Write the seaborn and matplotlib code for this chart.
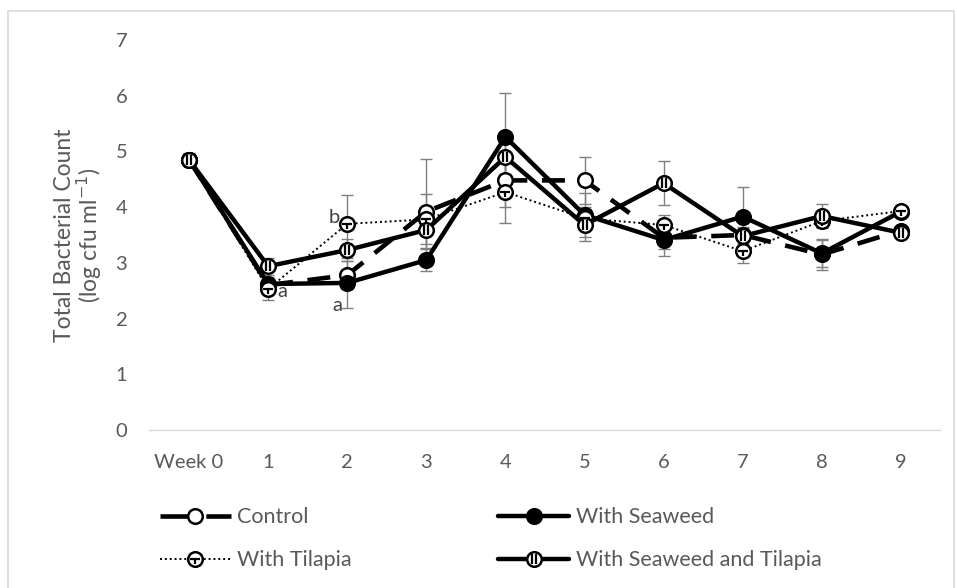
import numpy as np
import pandas as pd
import matplotlib
matplotlib.use("Agg")
import matplotlib.pyplot as plt
import seaborn as sns
from matplotlib.path import Path
from matplotlib.lines import Line2D
from matplotlib.legend_handler import HandlerTuple
from matplotlib.patches import Rectangle

# ---- data -------------------------------------------------------------
weeks = ["Week 0", "1", "2", "3", "4", "5", "6", "7", "8", "9"]

control = [4.85, 2.60, 2.78, 3.92, 4.48, 4.48, 3.45, 3.50, 3.15, 3.58]
seaweed = [4.85, 2.62, 2.64, 3.05, 5.26, 3.86, 3.41, 3.83, 3.17, 3.92]
tilapia = [4.85, 2.53, 3.70, 3.78, 4.27, 3.80, 3.68, 3.21, 3.75, 3.93]
seaweed_tilapia = [4.85, 2.94, 3.23, 3.59, 4.90, 3.68, 4.43, 3.48, 3.84, 3.54]

control_err = [0.12, 0.10, 0.25, 0.95, 0.47, 0.42, 0.20, 0.15, 0.28, 0.06]
seaweed_err = [0.10, 0.12, 0.45, 0.20, 0.78, 0.39, 0.29, 0.53, 0.24, 0.06]
tilapia_err = [0.10, 0.20, 0.52, 0.45, 0.55, 0.20, 0.18, 0.21, 0.10, 0.06]
seaweed_tilapia_err = [0.10, 0.15, 0.20, 0.32, 0.30, 0.29, 0.39, 0.15, 0.22, 0.06]

series_names = ["Control", "With Seaweed", "With Tilapia", "With Seaweed and Tilapia"]

# significance letters: (week index, value, letter)
letters = [(1, 2.53, "a"), (2, 2.64, "a"), (2, 3.70, "b")]

# ---- style ------------------------------------------------------------
sns.set_theme(style="white")
plt.rcParams["font.family"] = ["Lato", "DejaVu Sans"]
GREY_TXT = "#595959"
FS = 14.5
FS_LEG = 15.5
FS_YLAB = 16.5

fig = plt.figure(figsize=(9.57, 5.88), dpi=100)
ax = fig.add_axes([0.1562, 0.2687, 0.8265, 0.6633])

x = np.arange(len(weeks))
df = pd.DataFrame({
    "week": np.tile(x, 4),
    "value": control + seaweed + tilapia + seaweed_tilapia,
    "err": control_err + seaweed_err + tilapia_err + seaweed_tilapia_err,
    "series": np.repeat(series_names, len(weeks)),
})

# inner glyphs for the patterned markers
tee = Path([(-1, 0), (1, 0), (0, 0), (0, -1)],
           [Path.MOVETO, Path.LINETO, Path.MOVETO, Path.LINETO])
bars = Path([(-0.38, -0.9), (-0.38, 0.9), (0.38, -0.9), (0.38, 0.9)],
            [Path.MOVETO, Path.LINETO, Path.MOVETO, Path.LINETO])

styles = {
    "Control": dict(ls=(0, (5, 3.2)), lw=3.3, face="white", inner=None,
                    leg_ls=(0, (6, 4))),
    "With Seaweed": dict(ls="-", lw=3.2, face="black", inner=None),
    "With Tilapia": dict(ls=(0, (1, 1.5)), lw=1.4, face="white", inner=tee),
    "With Seaweed and Tilapia": dict(ls="-", lw=3.2, face="white", inner=bars),
}
MS = 10.5
MEW = 1.8
INNER = MS * 0.62

# error bars sit beneath the lines
for name in series_names:
    d = df[df.series == name]
    ax.errorbar(d.week, d.value, yerr=d.err, fmt="none", ecolor="#7f7f7f",
                elinewidth=1.0, capsize=4.5, capthick=1.0, zorder=1)

for i, name in enumerate(series_names):
    st = styles[name]
    d = df[df.series == name]
    sns.lineplot(data=d, x="week", y="value", ax=ax, color="black",
                 linestyle=st["ls"], linewidth=st["lw"], marker="o",
                 markersize=MS, markerfacecolor=st["face"],
                 markeredgecolor="black", markeredgewidth=MEW,
                 zorder=3 + i, legend=False)
    if st["inner"] is not None:
        ax.plot(d.week, d.value, linestyle="none", marker=st["inner"],
                markersize=INNER, markeredgecolor="black",
                markeredgewidth=1.6, zorder=3 + i)

for wk, val, letter in letters:
    if wk == 1:
        ax.text(wk + 0.12, val - 0.04, letter, fontsize=FS, color="#404040",
                ha="left", va="center", zorder=10)
    elif letter == "a":
        ax.text(wk - 0.12, val - 0.40, letter, fontsize=FS, color="#404040",
                ha="center", va="center", zorder=10)
    else:
        ax.text(wk - 0.16, val + 0.12, letter, fontsize=FS, color="#404040",
                ha="center", va="center", zorder=10)

# ---- axes -------------------------------------------------------------
ax.set_xlim(-0.5, len(weeks) - 0.5)
ax.set_ylim(0, 7)
ax.set_xticks(x)
ax.set_xticklabels(weeks)
ax.set_yticks(range(0, 8))
ax.tick_params(axis="both", length=0, labelsize=FS, colors=GREY_TXT)
ax.tick_params(axis="x", pad=17)
ax.tick_params(axis="y", pad=16)
ax.set_xlabel("")
ax.set_ylabel("Total Bacterial Count\n(log cfu ml$^{-1}$)", fontsize=FS_YLAB,
              color=GREY_TXT, labelpad=8, linespacing=1.0)
for side in ("top", "right", "left"):
    ax.spines[side].set_visible(False)
ax.spines["bottom"].set_color("#d9d9d9")
ax.spines["bottom"].set_linewidth(1.0)
ax.grid(False)

# ---- legend -----------------------------------------------------------
def legend_handle(name):
    st = styles[name]
    base = Line2D([], [], color="black", linestyle=st.get("leg_ls", st["ls"]),
                  linewidth=st["lw"], marker="o", markersize=MS,
                  markerfacecolor=st["face"], markeredgecolor="black",
                  markeredgewidth=MEW)
    if st["inner"] is None:
        return base
    top = Line2D([], [], linestyle="none", marker=st["inner"],
                 markersize=INNER, markeredgecolor="black",
                 markeredgewidth=1.6)
    return (base, top)

order = ["Control", "With Tilapia", "With Seaweed", "With Seaweed and Tilapia"]
fig.legend([legend_handle(n) for n in order], order, ncol=2,
           loc="upper left", bbox_to_anchor=(0.167, 0.137), frameon=False,
           fontsize=FS_LEG, labelcolor=GREY_TXT, handlelength=3.3,
           handletextpad=0.3, columnspacing=6.8, labelspacing=1.05,
           borderpad=0, borderaxespad=0, numpoints=1,
           handler_map={tuple: HandlerTuple(ndivide=1, pad=0)})

# chart-area frame
fig.patches.append(Rectangle((8 / 957, -0.05), (954 - 8) / 957, 1 - 11 / 588 + 0.05,
                             transform=fig.transFigure, fill=False,
                             edgecolor="#d9d9d9", linewidth=1.2, zorder=0))

fig.savefig("out.png", dpi=100)
